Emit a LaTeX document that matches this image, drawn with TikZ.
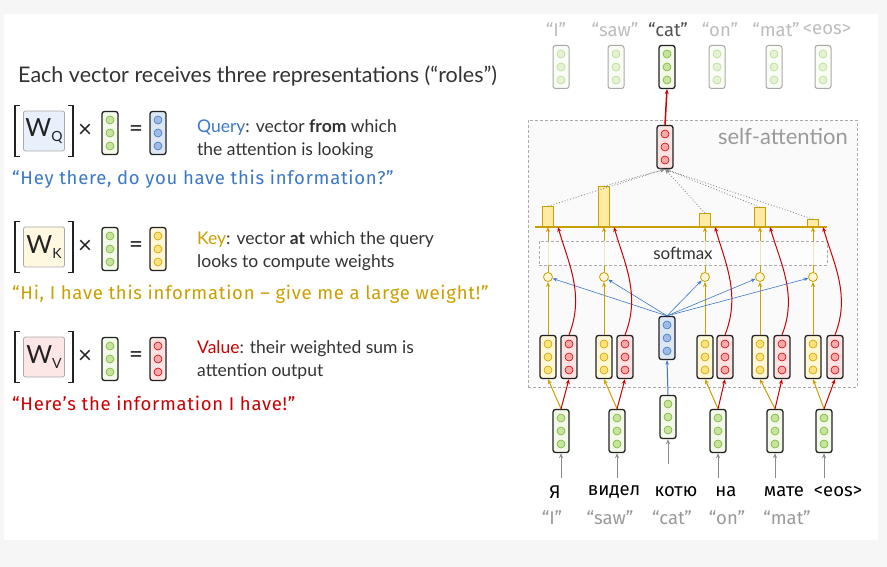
\documentclass[tikz,border=0pt]{standalone}
\usepackage{fontspec}
\setmainfont{Lato}
\newfontfamily\comicfont{Fira Sans}
\newfontfamily\quotefont{Fira Sans}[LetterSpace=4]
\usetikzlibrary{calc,positioning,arrows.meta}
\definecolor{PageGray}{HTML}{F6F6F6}
\definecolor{InkBlack}{HTML}{222222}
\definecolor{TextDark}{HTML}{333333}
\definecolor{QueryBlue}{HTML}{3B78C8}
\definecolor{KeyGold}{HTML}{C9A000}
\definecolor{ValueRed}{HTML}{CC0000}
\definecolor{QMat}{HTML}{E8F0FB}
\definecolor{KMat}{HTML}{FFF8E1}
\definecolor{VMat}{HTML}{FDE6E6}
\definecolor{QBg}{HTML}{DDE7F3}
\definecolor{QDot}{HTML}{9DBBE3}
\definecolor{KBg}{HTML}{FFF7D6}
\definecolor{KDot}{HTML}{FFE27A}
\definecolor{VBg}{HTML}{FFE3E3}
\definecolor{VDot}{HTML}{F7A8A8}
\definecolor{GreenBg}{HTML}{F3FAEA}
\definecolor{GreenDot}{HTML}{C5E59A}
\definecolor{GreenLine}{HTML}{78B23C}
\definecolor{FadeLine}{HTML}{A8A8A8}
\definecolor{FadeBg}{HTML}{FAFDF6}
\definecolor{FadeDot}{HTML}{E5F3D3}
\definecolor{FadeDotLine}{HTML}{B8DB94}
\definecolor{BarFill}{HTML}{FFEBA3}
\definecolor{FrameGray}{HTML}{AAAAAA}
\definecolor{FrameFill}{HTML}{FAFAFA}
\definecolor{LabelGray}{HTML}{9A9A9A}
\definecolor{WordGray}{HTML}{BDBDBD}
\definecolor{ArrowGray}{HTML}{8C8C8C}

\tikzset{
  vecbox/.style={draw=InkBlack, line width=1.3pt, rounded corners=2.5pt,
    minimum width=16pt, minimum height=43pt, inner sep=0pt},
  vecdot/.style={circle, line width=0.6pt, minimum size=8pt, inner sep=0pt},
  inbox/.style={vecbox, fill=GreenBg},
  indot/.style={vecdot, draw=GreenLine, fill=GreenDot},
  fadebox/.style={vecbox, draw=FadeLine, line width=1pt, fill=FadeBg},
  fadedot/.style={vecdot, draw=FadeDotLine, fill=FadeDot},
  qbox/.style={vecbox, fill=QBg},
  qdot/.style={vecdot, draw=QueryBlue, fill=QDot},
  kbox/.style={vecbox, fill=KBg},
  kdot/.style={vecdot, draw=KeyGold, fill=KDot},
  vbox/.style={vecbox, fill=VBg},
  vdot/.style={vecdot, draw=ValueRed, fill=VDot},
  matbox/.style={draw=FrameGray, line width=0.8pt, rounded corners=2pt,
    minimum width=41pt, minimum height=40pt, inner sep=0pt,
    font=\fontsize{25}{25}\selectfont, text=InkBlack},
  bracket/.style={draw=InkBlack, line width=1.3pt},
  opsign/.style={font=\fontsize{24}{24}\selectfont, text=InkBlack, inner sep=0pt},
  title/.style={font=\fontsize{21.5}{24}\selectfont, text=TextDark, inner sep=0pt},
  desc/.style={font=\fontsize{17.5}{23}\selectfont, text=TextDark, align=left, inner sep=0pt},
  saying/.style={font=\quotefont\fontsize{18.5}{20}\selectfont, inner sep=0pt},
  token/.style={font=\comicfont\fontsize{18.5}{20}\selectfont, inner sep=1pt},
  attframe/.style={draw=FrameGray, densely dashed, line width=0.6pt, fill=FrameFill,
    minimum width=329pt, minimum height=267pt, inner sep=0pt},
  softbox/.style={draw=FrameGray, densely dashed, line width=0.6pt, fill=white,
    fill opacity=0.75, text opacity=1, minimum width=288pt, minimum height=24pt,
    font=\fontsize{17}{17}\selectfont, text=TextDark},
  bar/.style={draw=KeyGold, line width=0.8pt, fill=BarFill, minimum width=11pt,
    inner sep=0pt, anchor=south},
  score/.style={circle, draw=KeyGold, line width=0.8pt, fill=KBg, minimum size=9pt,
    inner sep=0pt},
  goldarrow/.style={draw=KeyGold, line width=1pt, -{Stealth[length=5pt,width=4pt]}},
  redarrow/.style={draw=ValueRed, line width=1pt, -{Stealth[length=5pt,width=4pt]}},
  bluearrow/.style={draw=QueryBlue, line width=0.6pt, -{Stealth[length=4.5pt,width=3.5pt]}},
  grayarrow/.style={draw=ArrowGray, line width=1pt, -{Stealth[length=5pt,width=4pt]}},
  dotarrow/.style={draw=ArrowGray, line width=0.9pt, dotted, -{Stealth[length=5pt,width=4pt]}}
}

% word vector: name, position, box style, dot style
\newcommand{\wordvec}[4]{%
  \node[#3] (#1) at (#2) {};
  \node[#4] (#1a) at ($(#1)+(0,-13)$) {};
  \node[#4] (#1b) at (#1) {};
  \node[#4] (#1c) at ($(#1)+(0,13)$) {};
}

\begin{document}
\begin{tikzpicture}[x=1pt,y=-1pt]
  \useasboundingbox (0,0) rectangle (887,567);
  \fill[PageGray] (0,0) rectangle (887,567);
  \fill[white] (4,14) rectangle (878,540);

  % ---- left: the three roles
  \node[title, anchor=west] (head) at (18,76)
    {Each vector receives three representations (“roles”)};

  % query
  \node[matbox, fill=QMat] (wq) at (44,131) {W\raisebox{-5pt}{\fontsize{14}{14}\selectfont Q}};
  \draw[bracket] ($(wq.north west)+(-3,-5)$) -| ($(wq.south west)+(-8,5)$) -- ++(5,0);
  \draw[bracket] ($(wq.north east)+(3,-5)$) -| ($(wq.south east)+(8,5)$) -- ++(-5,0);
  \node[opsign] (xq) at (85,131) {×};
  \wordvec{gq}{110,133}{inbox}{indot}
  \node[opsign] (eqq) at (136,131) {=};
  \wordvec{rq}{158,133}{qbox}{qdot}
  \node[desc, anchor=west] (dq) at (197,139)
    {\textcolor{QueryBlue}{Query}: vector \textbf{from} which\\the attention is looking};
  \node[saying, text=QueryBlue, anchor=west] (sq) at (12,179)
    {“Hey there, do you have this information?”};

  % key
  \node[matbox, fill=KMat] (wk) at (44,247) {W\raisebox{-5pt}{\fontsize{14}{14}\selectfont K}};
  \draw[bracket] ($(wk.north west)+(-3,-5)$) -| ($(wk.south west)+(-8,5)$) -- ++(5,0);
  \draw[bracket] ($(wk.north east)+(3,-5)$) -| ($(wk.south east)+(8,5)$) -- ++(-5,0);
  \node[opsign] (xk) at (85,247) {×};
  \wordvec{gk}{110,249}{inbox}{indot}
  \node[opsign] (eqk) at (136,247) {=};
  \wordvec{rk}{158,249}{kbox}{kdot}
  \node[desc, anchor=west] (dk) at (197,251)
    {\textcolor{KeyGold}{Key}: vector \textbf{at} which the query\\looks to compute weights};
  \node[saying, text=KeyGold, anchor=west] (sk) at (12,294)
    {“Hi, I have this information – give me a large weight!”};

  % value
  \node[matbox, fill=VMat] (wv) at (44,357) {W\raisebox{-5pt}{\fontsize{14}{14}\selectfont V}};
  \draw[bracket] ($(wv.north west)+(-3,-5)$) -| ($(wv.south west)+(-8,5)$) -- ++(5,0);
  \draw[bracket] ($(wv.north east)+(3,-5)$) -| ($(wv.south east)+(8,5)$) -- ++(-5,0);
  \node[opsign] (xv) at (85,357) {×};
  \wordvec{gv}{110,359}{inbox}{indot}
  \node[opsign] (eqv) at (136,357) {=};
  \wordvec{rv}{158,359}{vbox}{vdot}
  \node[desc, anchor=west] (dv) at (197,360)
    {\textcolor{ValueRed}{Value}: their weighted sum is\\attention output};
  \node[saying, text=ValueRed, anchor=west] (sv) at (12,403)
    {“Here’s the information I have!”};

  % ---- right: self-attention for "cat"
  \node[attframe] (frame) at (692.5,253.5) {};
  \node[font=\fontsize{22}{22}\selectfont, text=LabelGray, anchor=east, inner sep=0pt]
    (satext) at (848,136) {self-attention};

  \coordinate (baseL) at (535,227);
  \coordinate (baseR) at (827,227);

  % scores
  \node[score] (s1) at (548,277) {};
  \node[score] (s2) at (604,277) {};
  \node[score] (s3) at (705,277) {};
  \node[score] (s4) at (760,277) {};
  \node[score] (s5) at (813,277) {};
  \foreach \i in {1,...,5}
    \draw[goldarrow] (s\i) -- (s\i |- baseL);
  \node[softbox] (smax) at (683,253) {softmax};
  \draw[draw=KeyGold, line width=1.2pt] (baseL) -- (baseR);

  % weights
  \node[bar, minimum height=20pt] (b1) at (548,227) {};
  \node[bar, minimum height=40pt] (b2) at (604,227) {};
  \node[bar, minimum height=13pt] (b3) at (705,227) {};
  \node[bar, minimum height=19pt] (b4) at (760,227) {};
  \node[bar, minimum height=7pt] (b5) at (813,227) {};

  % keys, values, query
  \wordvec{k1}{548,357}{kbox}{kdot}
  \wordvec{v1}{569,357}{vbox}{vdot}
  \wordvec{k2}{604,357}{kbox}{kdot}
  \wordvec{v2}{625,357}{vbox}{vdot}
  \wordvec{k3}{705,357}{kbox}{kdot}
  \wordvec{v3}{725,357}{vbox}{vdot}
  \wordvec{k4}{760,357}{kbox}{kdot}
  \wordvec{v4}{782,357}{vbox}{vdot}
  \wordvec{k5}{813,357}{kbox}{kdot}
  \wordvec{v5}{835,357}{vbox}{vdot}
  \wordvec{q}{667,338}{qbox}{qdot}

  \foreach \i in {1,...,5} {
    \draw[goldarrow] (k\i.north) -- (s\i);
    \draw[bluearrow] (q.north) -- (s\i);
    \draw[redarrow] (v\i.north) .. controls +(16,-40) and +(10,35) .. ($(b\i.south)+(10,0)$);
  }

  % attention output
  \wordvec{att}{665,147}{vbox}{vdot}
  \foreach \i in {1,...,5}
    \draw[dotarrow] (b\i.north) -- (att.south);

  % inputs
  \wordvec{in1}{561,431}{inbox}{indot}
  \wordvec{in2}{617,431}{inbox}{indot}
  \wordvec{in3}{668,417}{inbox}{indot}
  \wordvec{in4}{718,431}{inbox}{indot}
  \wordvec{in5}{775,431}{inbox}{indot}
  \wordvec{in6}{824,431}{inbox}{indot}
  \draw[goldarrow] (in1.north) -- (k1.south);
  \draw[redarrow] (in1.north) -- (v1.south);
  \draw[goldarrow] (in2.north) -- (k2.south);
  \draw[redarrow] (in2.north) -- (v2.south);
  \draw[bluearrow, line width=1pt] (in3.north) -- (q.south);
  \draw[goldarrow] (in4.north) -- (k3.south);
  \draw[redarrow] (in4.north) -- (v3.south);
  \draw[goldarrow] (in5.north) -- (k4.south);
  \draw[redarrow] (in5.north) -- (v4.south);
  \draw[goldarrow] (in6.north) -- (k5.south);
  \draw[redarrow] (in6.north) -- (v5.south);
  \foreach \i in {1,...,6}
    \draw[grayarrow] ($(in\i.south)+(0,25)$) -- (in\i.south);

  % words
  \node[token] (w1) at (555,492) {Я};
  \node[token] (w2) at (614,492) {видел};
  \node[token] (w3) at (676,492) {котю};
  \node[token] (w4) at (726,492) {на};
  \node[token] (w5) at (784,492) {мате};
  \node[token] (w6) at (838,492) {<eos>};
  \node[token, text=LabelGray] (e1) at (552,518) {“I”};
  \node[token, text=LabelGray] (e2) at (610,518) {“saw”};
  \node[token, text=LabelGray] (e3) at (672,518) {“cat”};
  \node[token, text=LabelGray] (e4) at (727,518) {“on”};
  \node[token, text=LabelGray] (e5) at (787,518) {“mat”};

  % outputs
  \wordvec{out1}{561,67}{fadebox}{fadedot}
  \wordvec{out2}{616,67}{fadebox}{fadedot}
  \wordvec{out3}{667,67}{inbox}{indot}
  \wordvec{out4}{717,67}{fadebox}{fadedot}
  \wordvec{out5}{774,67}{fadebox}{fadedot}
  \wordvec{out6}{823,67}{fadebox}{fadedot}
  \draw[redarrow, line width=1.5pt] (att.north) -- (out3.south);
  \node[token, text=WordGray] (o1) at (556,30) {“I”};
  \node[token, text=WordGray] (o2) at (615,30) {“saw”};
  \node[token, text=TextDark!85] (o3) at (668,30) {“cat”};
  \node[token, text=WordGray] (o4) at (720,30) {“on”};
  \node[token, text=WordGray] (o5) at (776,30) {“mat”};
  \node[token, text=WordGray] (o6) at (827,30) {<eos>};
\end{tikzpicture}
\end{document}
